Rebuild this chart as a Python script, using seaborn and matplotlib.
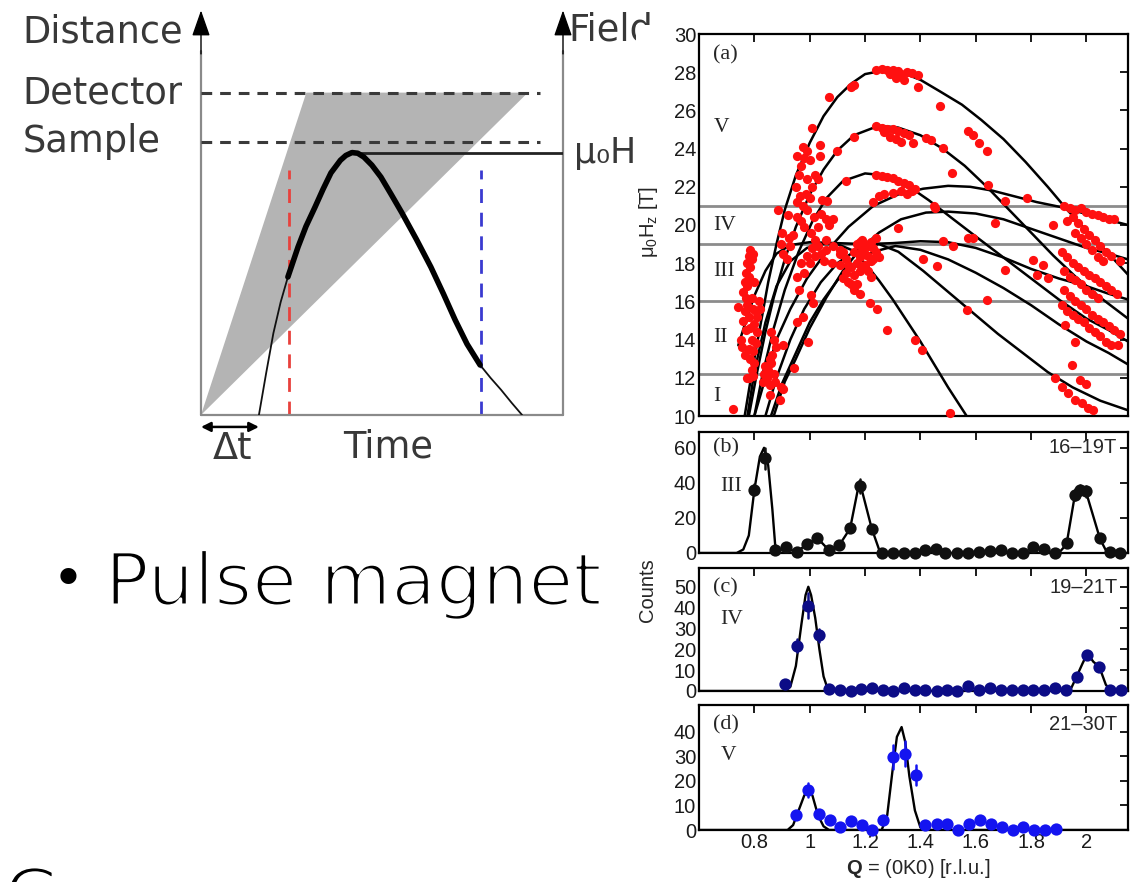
import numpy as np
import pandas as pd
import matplotlib
matplotlib.use("Agg")
import matplotlib.pyplot as plt
import matplotlib.patheffects as pe
import seaborn as sns
from matplotlib.patches import Polygon, Rectangle

# ------------------------------------------------------------------ data
# --- schematic (time / distance units; detector distance = 10)
detector_level = 10.0
sample_level = 8.48
field_max = 8.14
cone_t = [0.0, 2.91, 9.03]
cone_d = [0.0, 10.0, 10.0]
pulse_t = [1.60, 1.80, 2.00, 2.20, 2.40, 2.68, 2.90, 3.15, 3.37, 3.59, 3.85, 4.00, 4.17, 4.33, 4.50, 4.72,
           4.97, 5.25, 5.55, 5.95, 6.35, 6.70, 7.02, 7.35, 7.71, 8.00, 8.29, 8.58, 8.87]
pulse_f = [0.00, 1.30, 2.54, 3.50, 4.28, 5.21, 5.85, 6.45, 7.00, 7.51, 7.90, 8.05, 8.14, 8.12, 8.00, 7.75,
           7.38, 6.85, 6.27, 5.45, 4.59, 3.75, 2.95, 2.20, 1.55, 1.15, 0.78, 0.38, 0.00]
t_red = 2.42
t_blue = 7.73
dt_end = 1.60

# --- panel (a): dispersion curves (Q, mu0Hz)
curve_1 = [(0.765, 10.0), (0.79, 12.2), (0.82, 14.6), (0.85, 17.0), (0.88, 19.0), (0.91, 20.8), (0.95, 22.6),
           (1.00, 24.3), (1.05, 25.7), (1.10, 26.7), (1.15, 27.4), (1.20, 27.9), (1.27, 28.1), (1.33, 28.0),
           (1.40, 27.6), (1.47, 27.0), (1.55, 26.3), (1.62, 25.5), (1.70, 24.5), (1.78, 23.3), (1.86, 22.0),
           (1.93, 20.8), (2.00, 19.7), (2.08, 18.5), (2.15, 17.4)]
curve_2 = [(0.78, 10.0), (0.81, 12.3), (0.84, 14.4), (0.87, 16.2), (0.91, 18.2), (0.95, 19.9), (1.00, 21.6),
           (1.05, 22.9), (1.10, 23.9), (1.16, 24.7), (1.25, 25.2), (1.32, 25.1), (1.40, 24.7), (1.48, 24.0),
           (1.56, 23.1), (1.64, 22.0), (1.72, 20.8), (1.80, 19.6), (1.88, 18.4), (1.96, 17.3), (2.05, 16.2),
           (2.15, 15.1)]
curve_3 = [(0.80, 10.0), (0.83, 12.2), (0.87, 14.6), (0.91, 16.6), (0.96, 18.6), (1.01, 20.2), (1.06, 21.4),
           (1.12, 22.3), (1.20, 22.7), (1.27, 22.6), (1.35, 22.1), (1.43, 21.3), (1.51, 20.4), (1.60, 19.4),
           (1.70, 18.3), (1.80, 17.2), (1.90, 16.1), (2.00, 15.1), (2.08, 14.5), (2.15, 13.9)]
curve_4 = [(0.80, 10.0), (0.84, 12.0), (0.88, 14.0), (0.93, 15.6), (0.99, 17.2), (1.06, 18.6), (1.14, 19.9),
           (1.23, 21.0), (1.32, 21.6), (1.41, 21.9), (1.50, 22.05), (1.58, 22.0), (1.66, 21.8), (1.74, 21.5),
           (1.82, 21.2), (1.92, 20.9), (2.03, 20.45), (2.15, 20.0)]
curve_5 = [(0.87, 10.0), (0.91, 11.8), (0.95, 13.0), (1.00, 14.6), (1.06, 16.2), (1.12, 17.6), (1.18, 18.7),
           (1.25, 19.6), (1.33, 20.3), (1.42, 20.65), (1.50, 20.7), (1.60, 20.6), (1.70, 20.3), (1.80, 19.8),
           (1.90, 19.3), (2.00, 18.8), (2.08, 18.5), (2.15, 18.2)]
curve_6 = [(0.742, 13.7), (0.77, 15.0), (0.80, 16.3), (0.84, 17.6), (0.88, 18.5), (0.93, 18.95), (1.00, 19.1),
           (1.10, 19.05), (1.20, 19.0), (1.30, 19.05), (1.40, 19.15), (1.50, 19.1), (1.60, 18.8), (1.70, 18.3),
           (1.80, 17.7), (1.90, 17.2), (2.00, 16.8), (2.08, 16.4), (2.15, 16.1)]
curve_7 = [(0.775, 10.0), (0.80, 12.3), (0.84, 14.9), (0.88, 16.8), (0.93, 18.1), (0.99, 18.8), (1.05, 19.0),
           (1.10, 19.0), (1.15, 18.7), (1.20, 18.0), (1.25, 17.1), (1.30, 16.1), (1.35, 15.0), (1.40, 13.9),
           (1.45, 12.7), (1.50, 11.5), (1.567, 10.0)]
curve_8 = [(0.86, 10.0), (0.90, 11.7), (0.95, 13.3), (1.00, 14.9), (1.05, 16.1), (1.10, 17.1), (1.16, 18.0),
           (1.23, 18.6), (1.31, 18.9), (1.40, 18.7), (1.50, 18.2), (1.60, 17.5), (1.70, 16.7), (1.80, 15.8),
           (1.90, 14.8), (2.00, 13.9), (2.08, 13.3), (2.15, 12.7)]
curve_9 = [(0.84, 10.0), (0.88, 12.0), (0.93, 14.0), (0.98, 15.6), (1.04, 17.0), (1.10, 18.0), (1.17, 18.7),
           (1.25, 19.0), (1.32, 18.6), (1.41, 17.6), (1.50, 16.5), (1.59, 15.4), (1.68, 14.3), (1.77, 13.3),
           (1.86, 12.3), (1.95, 11.5), (2.05, 10.8), (2.15, 10.3)]
phase_boundaries = [21.0, 19.0, 16.0, 12.2]
phase_labels = ["V", "IV", "III", "II", "I"]
phase_label_h = [25.1, 20.0, 17.55, 14.1, 11.0]

# --- panel (a): measured points
red_left = [(0.760, 16.5), (0.765, 17.0), (0.770, 17.5), (0.775, 18.0), (0.780, 18.4), (0.785, 18.7),
            (0.770, 16.2), (0.775, 16.8), (0.780, 17.3), (0.785, 17.8), (0.790, 18.2), (0.795, 18.5),
            (0.760, 15.0), (0.765, 15.5), (0.770, 14.5), (0.775, 15.8), (0.780, 15.2), (0.785, 14.6),
            (0.790, 16.2), (0.795, 15.6), (0.800, 17.0), (0.780, 13.5), (0.785, 13.0), (0.790, 14.0),
            (0.795, 13.4), (0.800, 14.8), (0.805, 15.5), (0.790, 12.4), (0.795, 12.1), (0.800, 12.8),
            (0.805, 13.8), (0.810, 14.4), (0.815, 16.0), (0.810, 15.2), (0.820, 15.6), (0.750, 14.0),
            (0.742, 15.7), (0.755, 13.6), (0.765, 13.2), (0.772, 12.0), (0.780, 12.0), (0.724, 10.35),
            (0.830, 11.8), (0.835, 12.2), (0.840, 12.6), (0.845, 12.0), (0.850, 12.4), (0.855, 11.6),
            (0.860, 12.8), (0.865, 13.2), (0.870, 12.2), (0.875, 11.8), (0.880, 13.6), (0.870, 14.0),
            (0.860, 14.4), (0.855, 13.0), (0.856, 11.1), (0.893, 10.84), (0.895, 11.5), (0.905, 13.7),
            (0.902, 11.4), (0.887, 20.8), (0.899, 19.6), (0.895, 19.0), (0.905, 18.5), (0.917, 18.2),
            (0.923, 20.5), (0.925, 19.3), (0.930, 18.9), (0.940, 19.5), (0.953, 21.2), (0.955, 20.4),
            (0.965, 21.5), (0.953, 23.6), (0.977, 24.1), (0.950, 22.0), (0.960, 22.6), (0.970, 23.1),
            (0.980, 23.5), (0.990, 23.9), (1.007, 25.1), (1.000, 23.4), (0.990, 22.4), (0.985, 21.6),
            (0.975, 21.0), (0.970, 20.2), (0.980, 19.9), (0.990, 20.8), (1.000, 21.4), (1.010, 22.0),
            (1.020, 22.6), (1.005, 19.6), (1.015, 20.4), (1.020, 19.2), (1.030, 19.9), (1.040, 20.6),
            (1.045, 21.3), (1.037, 24.2), (1.037, 23.6), (1.031, 22.4), (0.953, 17.3), (0.960, 16.6),
            (0.970, 18.0), (0.980, 17.5), (0.990, 18.4), (1.000, 18.0), (1.010, 18.8), (1.020, 18.4),
            (1.030, 18.9), (1.040, 18.5), (1.050, 18.1), (1.060, 18.7), (1.003, 16.35), (1.013, 15.9),
            (0.977, 15.2), (0.953, 14.9), (0.995, 13.9), (0.943, 12.5)]
red_mid = [(1.085, 18.9), (1.080, 18.0), (1.109, 18.7), (1.060, 19.2), (1.110, 18.5), (1.058, 20.3),
           (1.070, 20.0), (1.085, 20.3), (1.061, 21.25), (1.120, 17.2), (1.130, 17.5), (1.140, 17.0),
           (1.150, 17.8), (1.160, 17.4), (1.170, 18.0), (1.180, 18.3), (1.190, 18.7), (1.200, 18.5),
           (1.210, 18.9), (1.220, 19.1), (1.230, 18.8), (1.240, 18.6), (1.160, 18.6), (1.170, 19.0),
           (1.180, 19.1), (1.190, 19.2), (1.200, 19.0), (1.210, 18.4), (1.220, 18.1), (1.230, 18.2),
           (1.150, 16.9), (1.160, 16.6), (1.170, 16.9), (1.140, 17.9), (1.130, 18.2), (1.180, 17.6),
           (1.190, 17.8), (1.200, 17.9), (1.210, 17.6), (1.120, 18.6), (1.110, 17.9), (1.240, 19.3),
           (1.250, 18.3), (1.220, 17.3), (1.180, 16.4), (1.218, 15.9), (1.244, 15.6), (1.278, 14.5),
           (1.380, 14.0), (1.404, 13.46), (1.507, 10.14), (1.240, 28.1), (1.260, 28.15), (1.280, 28.1),
           (1.300, 28.1), (1.320, 28.05), (1.330, 27.9), (1.350, 28.0), (1.370, 27.95), (1.390, 27.85),
           (1.290, 27.9), (1.310, 27.7), (1.340, 27.6), (1.390, 27.2), (1.160, 27.35), (1.150, 27.25),
           (1.070, 26.7), (1.240, 25.2), (1.260, 25.1), (1.280, 25.05), (1.300, 25.0), (1.320, 24.9),
           (1.340, 24.8), (1.360, 24.7), (1.270, 24.85), (1.290, 24.6), (1.310, 24.5), (1.330, 24.35),
           (1.374, 24.3), (1.420, 24.55), (1.440, 24.45), (1.160, 24.6), (1.100, 23.9), (1.240, 22.6),
           (1.260, 22.55), (1.280, 22.5), (1.300, 22.45), (1.320, 22.3), (1.340, 22.2), (1.360, 22.1),
           (1.370, 21.8), (1.330, 21.8), (1.300, 21.7), (1.270, 21.6), (1.250, 21.5), (1.230, 21.2),
           (1.350, 21.6), (1.380, 21.9), (1.130, 22.3), (1.450, 21.0)]
red_right = [(1.470, 26.24), (1.573, 24.9), (1.590, 24.7), (1.610, 24.3), (1.640, 23.9), (1.483, 24.05),
             (1.513, 22.74), (1.645, 22.1), (1.705, 21.25), (1.784, 21.4), (1.669, 20.1), (1.453, 20.9),
             (1.320, 19.85), (1.483, 19.15), (1.519, 18.9), (1.573, 19.3), (1.591, 19.3), (1.410, 18.2),
             (1.459, 17.84), (1.705, 17.66), (1.640, 16.09), (1.567, 15.56), (1.880, 20.0), (1.808, 18.19),
             (1.844, 17.9), (1.820, 17.4), (1.862, 17.2),
             (1.920, 21.0), (1.940, 20.9), (1.960, 20.8), (1.980, 20.9), (2.000, 20.7), (2.020, 20.6),
             (2.040, 20.5), (2.060, 20.4), (2.080, 20.3), (2.100, 20.3), (1.950, 20.4), (1.970, 20.1),
             (1.990, 19.8), (2.010, 19.5), (2.030, 19.2), (2.050, 18.9), (2.070, 18.6), (2.090, 18.4),
             (1.930, 20.2), (1.960, 19.6), (1.980, 19.3), (2.000, 19.0), (2.020, 18.7), (2.040, 18.3),
             (2.060, 18.1), (2.120, 18.1), (1.910, 18.6), (1.930, 18.3), (1.950, 18.0), (1.970, 17.8),
             (1.990, 17.6), (2.010, 17.4), (2.030, 17.2), (2.050, 17.0), (2.070, 16.8), (2.090, 16.6),
             (2.110, 16.4), (1.920, 17.6), (1.940, 17.3), (1.960, 17.1), (1.980, 16.9), (2.000, 16.6),
             (2.020, 16.4), (2.040, 16.2), (1.920, 16.6), (1.940, 16.3), (1.960, 16.0), (1.980, 15.8),
             (2.000, 15.6), (2.020, 15.3), (2.040, 15.1), (2.060, 14.9), (2.080, 14.7), (2.100, 14.5),
             (2.120, 14.3), (1.910, 15.8), (1.930, 15.5), (1.950, 15.3), (1.970, 15.1), (1.990, 14.9),
             (2.010, 14.6), (2.030, 14.4), (2.050, 14.2), (2.070, 13.9), (2.090, 13.7), (1.922, 14.78),
             (1.960, 13.9), (2.115, 13.7), (1.946, 12.68), (1.886, 11.98), (1.910, 11.54), (1.934, 11.2),
             (1.958, 10.84), (1.982, 10.67), (2.006, 10.4), (2.025, 10.3), (1.976, 11.9), (2.000, 11.7)]

# --- panel (b) 16-19T
q_b = [0.800, 0.838, 0.875, 0.913, 0.953, 0.989, 1.028, 1.070, 1.107, 1.146, 1.180, 1.224, 1.262, 1.300,
       1.340, 1.380, 1.418, 1.456, 1.490, 1.533, 1.573, 1.613, 1.651, 1.690, 1.731, 1.770, 1.808, 1.848,
       1.886, 1.928, 1.958, 1.976, 1.998, 2.049, 2.085, 2.121]
c_b = [36.2, 54.0, 1.9, 3.4, 0.4, 5.1, 8.6, 1.9, 4.8, 14.3, 38.1, 13.7, 0.0, 0.0, 0.0, 0.0, 1.9, 2.5, 0.0,
       0.0, 0.0, 0.4, 1.0, 1.5, 0.0, 0.0, 3.4, 2.5, 0.0, 5.7, 33.3, 36.0, 35.2, 8.6, 0.4, 0.0]
e_b = [3, 6, 0, 0, 0, 0, 0, 0, 0, 2, 4, 2, 0, 0, 0, 0, 0, 0, 0, 0, 0, 0, 0, 0, 0, 0, 0, 0, 0, 0, 3, 3, 3, 0,
       0, 0]
fit_b_q = [0.60, 0.736, 0.76, 0.78, 0.80, 0.82, 0.835, 0.85, 0.865, 0.875, 0.885, 0.913, 0.953, 0.989,
           1.028, 1.070, 1.107, 1.146, 1.180, 1.224, 1.255, 1.90, 1.928, 1.958, 1.980, 1.998, 2.049,
           2.075, 2.15]
fit_b_c = [0.0, 0.0, 2.0, 10.0, 36.0, 55.0, 60.0, 50.0, 25.0, 5.0, 1.0, 3.0, 0.5, 5.0, 8.5, 1.5, 4.5,
           14.0, 41.0, 14.0, 0.0, 0.0, 5.0, 33.0, 38.0, 35.0, 8.0, 0.0, 0.0]

# --- panel (c) 19-21T
q_c = [0.911, 0.953, 0.995, 1.034, 1.071, 1.109, 1.148, 1.186, 1.226, 1.264, 1.302, 1.340, 1.380, 1.418,
       1.459, 1.495, 1.533, 1.573, 1.613, 1.651, 1.690, 1.730, 1.769, 1.808, 1.848, 1.886, 1.925, 1.964,
       2.003, 2.046, 2.085, 2.125]
c_c = [3.3, 21.8, 41.0, 26.7, 1.1, 0.3, 0.0, 1.1, 1.5, 0.3, 0.0, 1.3, 0.3, 0.3, 0.0, 0.3, 0.0, 2.4, 0.3,
       1.5, 0.3, 0.3, 0.3, 0.3, 0.3, 1.5, 0.3, 6.8, 17.4, 11.7, 0.3, 0.3]
e_c = [0, 3, 6, 3, 0, 0, 0, 0, 0, 0, 0, 0, 0, 0, 0, 0, 0, 0, 0, 0, 0, 0, 0, 0, 0, 0, 0, 0, 2, 0, 0, 0]
fit_c_q = [0.60, 0.91, 0.93, 0.95, 0.97, 0.985, 0.995, 1.005, 1.02, 1.035, 1.05, 1.065, 1.08, 1.94,
           1.964, 1.985, 2.003, 2.025, 2.046, 2.07, 2.09, 2.15]
fit_c_c = [0.0, 0.0, 2.0, 12.0, 32.0, 46.0, 50.0, 46.0, 35.0, 20.0, 7.0, 1.0, 0.0, 0.0, 6.8, 13.0, 18.0,
           14.0, 11.7, 3.0, 0.0, 0.0]

# --- panel (d) 21-30T
q_d = [0.950, 0.995, 1.035, 1.073, 1.109, 1.148, 1.188, 1.226, 1.266, 1.302, 1.344, 1.384, 1.416, 1.459,
       1.497, 1.537, 1.577, 1.615, 1.654, 1.693, 1.733, 1.772, 1.810, 1.850, 1.890]
c_d = [6.1, 16.3, 6.5, 4.1, 1.1, 3.8, 2.0, 0.0, 4.1, 29.8, 31.2, 22.4, 2.0, 2.4, 2.4, 0.0, 2.4, 4.1, 2.4,
       1.4, 0.0, 1.4, 0.0, 0.0, 0.3]
e_d = [0, 3, 0, 0, 0, 0, 0, 0, 0, 5, 5, 4, 0, 0, 0, 0, 0, 0, 0, 0, 0, 0, 0, 0, 0]
fit_d_q = [0.60, 0.92, 0.94, 0.96, 0.98, 0.995, 1.01, 1.03, 1.05, 1.07, 1.26, 1.28, 1.30, 1.315, 1.332,
           1.345, 1.36, 1.38, 1.40, 1.42, 2.15]
fit_d_c = [0.0, 0.0, 2.0, 8.0, 14.0, 16.5, 14.0, 6.0, 1.5, 0.0, 0.0, 6.0, 25.0, 38.0, 42.0, 36.0, 22.0,
           8.0, 1.0, 0.0, 0.0]

q_ticks = [0.8, 1.0, 1.2, 1.4, 1.6, 1.8, 2.0]
q_ticklabels = ["0.8", "1", "1.2", "1.4", "1.6", "1.8", "2"]

# ------------------------------------------------------------------ style
sns.set_theme(style="white")
plt.rcParams["font.family"] = ["DejaVu Sans"]
plt.rcParams["mathtext.fontset"] = "custom"
plt.rcParams["mathtext.rm"] = "Liberation Sans"
plt.rcParams["mathtext.bf"] = "Liberation Sans:bold"
plt.rcParams["mathtext.it"] = "Liberation Sans:italic"

W, H = 1134, 882
fig = plt.figure(figsize=(W / 100, H / 100), dpi=100)
fig.patch.set_facecolor("white")

# ------------------------------------------------------------------ schematic
ax0 = fig.add_axes([201 / W, (H - 415) / H, 362 / W, 403 / H])
ax0.set_xlim(0, 10)
ax0.set_ylim(0, 12.5)
ax0.axis("off")
frame_c = "#8a8a8a"
txt_c = "#383838"
ax0.add_patch(Polygon(list(zip(cone_t, cone_d)), closed=True, facecolor="#b4b4b4", edgecolor="none", zorder=1))
ax0.plot([0, 0], [0, 11.3], color=frame_c, lw=1.6, zorder=3, clip_on=False)
ax0.plot([10, 10], [0, 11.3], color=frame_c, lw=1.6, zorder=3, clip_on=False)
ax0.plot([0, 10], [0, 0], color=frame_c, lw=1.6, zorder=3, clip_on=False)
for xx in (0, 10):
    ax0.annotate("", xy=(xx, 12.55), xytext=(xx, 11.2),
                 arrowprops=dict(arrowstyle="-|>,head_length=0.8,head_width=0.28", color="black", lw=1.0,
                                 mutation_scale=20, shrinkA=0, shrinkB=0),
                 annotation_clip=False)
ax0.plot([0, 9.36], [detector_level] * 2, ls=(0, (3.5, 2.6)), color="#3a3a3a", lw=2.2, zorder=3)
ax0.plot([0, 9.36], [sample_level] * 2, ls=(0, (3.5, 2.6)), color="#3a3a3a", lw=2.2, zorder=3)
pk = int(np.argmax(pulse_f))
ax0.plot([pulse_t[pk], 10], [field_max, field_max], color="#222222", lw=2.0, zorder=4)
ax0.plot([t_red, t_red], [0, 7.6], ls=(0, (5, 3.5)), color="#e8413c", lw=2.0, zorder=2)
ax0.plot([t_blue, t_blue], [0, 7.6], ls=(0, (5, 3.5)), color="#3a3ad0", lw=2.0, zorder=2)
pt = np.array(pulse_t)
pf = np.array(pulse_f)
thick = (pt >= 2.40) & (pt <= 7.71)
ax0.plot(pt, pf, color="#111111", lw=1.3, zorder=5)
ax0.plot(pt[thick], pf[thick], color="#000000", lw=4.0, zorder=6, solid_joinstyle="round")
ax0.annotate("", xy=(0, -0.37), xytext=(dt_end, -0.37),
             arrowprops=dict(arrowstyle="<|-|>", color="black", lw=1.8, mutation_scale=14, shrinkA=0, shrinkB=0),
             annotation_clip=False)
tkw = dict(color=txt_c, fontsize=26.5, family="DejaVu Sans", clip_on=False)
ax0.text(-4.94, 11.88, "Distance", ha="left", va="center", **tkw)
ax0.text(-4.94, detector_level, "Detector", ha="left", va="center", **tkw)
ax0.text(-4.94, sample_level, "Sample", ha="left", va="center", **tkw)
ax0.text(10.14, 11.95, "Field", ha="left", va="center", **tkw)
ax0.text(10.3, field_max, "μ\u2080H", ha="left", va="center", color=txt_c, fontsize=25, family="DejaVu Sans")
ax0.text(0.86, -1.05, "Δt", ha="center", va="center", **tkw)
ax0.text(5.17, -1.0, "Time", ha="center", va="center", **tkw)

# slide text (thin geometric look)
thin = [pe.Normal(), pe.Stroke(linewidth=2.2, foreground="white")]
fig.text(68 / W, 1 - 582 / H, "•", ha="center", va="center", fontsize=40, color="black", family="DejaVu Sans")
fig.text(105 / W, 1 - 605 / H, "Pulse magnet", ha="left", va="baseline", fontsize=52.5, color="black",
         family="DejaVu Sans", path_effects=thin)
fig.text(4 / W, 1 - 921 / H, "G", ha="left", va="baseline", fontsize=52.5, color="black",
         family="DejaVu Sans", path_effects=thin)

# white background of the pasted figure
fig.patches.append(Rectangle((636 / W, 0), 1 - 636 / W, (H - 25) / H, transform=fig.transFigure,
                             facecolor="white", edgecolor="none", zorder=1))

# ------------------------------------------------------------------ data panels
axa = fig.add_axes([699 / W, (H - 416) / H, 429 / W, 382 / H])
axb = fig.add_axes([699 / W, (H - 553) / H, 429 / W, 121 / H])
axc = fig.add_axes([699 / W, (H - 691) / H, 429 / W, 123 / H])
axd = fig.add_axes([699 / W, (H - 830) / H, 429 / W, 125 / H])
tick_font = "Liberation Sans"
serif = "Liberation Serif"
FS = 14.5
for ax in (axa, axb, axc, axd):
    ax.set_zorder(2)
    ax.set_facecolor("white")
    ax.set_xlim(0.6, 2.15)
    ax.set_xticks(q_ticks)
    ax.tick_params(direction="in", top=True, right=True, length=6, width=1.4, labelsize=FS,
                   colors="#1a1a1a", pad=2)
    for s in ax.spines.values():
        s.set_color("black")
        s.set_linewidth(1.6)

# panel (a)
for hb in phase_boundaries:
    axa.axhline(hb, color="#8c8c8c", lw=2.0, zorder=1)
curves = [curve_1, curve_2, curve_3, curve_4, curve_5, curve_6, curve_7, curve_8, curve_9]
df_curves = pd.DataFrame([(i, q, h) for i, c in enumerate(curves) for (q, h) in c], columns=["curve", "Q", "H"])
sns.lineplot(data=df_curves, x="Q", y="H", units="curve", estimator=None, sort=False, color="black",
             lw=1.8, ax=axa, zorder=3, legend=False)
red_all = red_left + red_mid + red_right
df_red = pd.DataFrame(red_all, columns=["Q", "H"])
sns.scatterplot(data=df_red, x="Q", y="H", color="#ff1010", s=44, linewidth=0, ax=axa, zorder=4,
                clip_on=False, legend=False)
axa.set_ylim(10, 30)
axa.set_yticks(np.arange(10, 31, 2))
axa.set_xlabel("")
axa.set_ylabel("")
axa.text(0.033, 0.945, "(a)", transform=axa.transAxes, ha="left", va="center", family=serif, fontsize=16)
for lab, hh in zip(phase_labels, phase_label_h):
    axa.text(0.652, hh, lab, ha="left", va="center", family=serif, fontsize=15.5, color="#222222")


def count_panel(ax, q, c, e, fq, fc, col, ylim, yticks, tag, roman, rng, tag_y, rom_y):
    sns.lineplot(x=fq, y=fc, sort=False, estimator=None, color="black", lw=1.7, ax=ax, zorder=3)
    for qq, cc, ee in zip(q, c, e):
        if ee > 0:
            ax.plot([qq, qq], [cc - ee, cc + ee], color=col, lw=1.8, zorder=4)
    sns.scatterplot(x=q, y=c, color=col, s=78, linewidth=0, ax=ax, zorder=5, clip_on=False, legend=False)
    ax.set_ylim(*ylim)
    ax.set_yticks(yticks)
    ax.set_xlabel("")
    ax.set_ylabel("")
    ax.text(0.033, tag_y, tag, transform=ax.transAxes, ha="left", va="center", family=serif, fontsize=16)
    ax.text(0.05, rom_y, roman, transform=ax.transAxes, ha="left", va="center", family=serif, fontsize=15.5)
    ax.text(0.975, tag_y, rng, transform=ax.transAxes, ha="right", va="center", family=tick_font,
            fontsize=FS)


count_panel(axb, q_b, c_b, e_b, fit_b_q, fit_b_c, "#101010", (0, 69), [0, 20, 40, 60], "(b)", "III",
            "16–19T", 0.87, 0.55)
count_panel(axc, q_c, c_c, e_c, fit_c_q, fit_c_c, "#0c0c86", (0, 59), [0, 10, 20, 30, 40, 50], "(c)", "IV",
            "19–21T", 0.84, 0.58)
count_panel(axd, q_d, c_d, e_d, fit_d_q, fit_d_c, "#1414f0", (0, 51), [0, 10, 20, 30, 40], "(d)", "V",
            "21–30T", 0.84, 0.60)
for ax in (axa, axb, axc):
    ax.tick_params(labelbottom=False)
axd.set_xticks(q_ticks)
axd.set_xticklabels(q_ticklabels)
for ax in (axa, axb, axc, axd):
    ax.set_xlim(0.6, 2.15)
    for lab in ax.get_yticklabels() + ax.get_xticklabels():
        lab.set_family(tick_font)
        lab.set_fontsize(FS)

fig.text(918 / W, 1 - 869 / H, r"$\mathbf{Q}$ = (0K0) [r.l.u.]", ha="center", va="center",
         family=tick_font, fontsize=FS, zorder=5)
fig.text(648 / W, 1 - 222 / H, "μ$_\\mathdefault{0}$H$_\\mathdefault{z}$ [T]", ha="center", va="center",
         rotation=90, family=tick_font, fontsize=FS, zorder=5)
fig.text(647 / W, 1 - 590 / H, "Counts", ha="center", va="center", rotation=90, family=tick_font,
         fontsize=FS, zorder=5)

fig.savefig("out.png", dpi=100, facecolor="white")
